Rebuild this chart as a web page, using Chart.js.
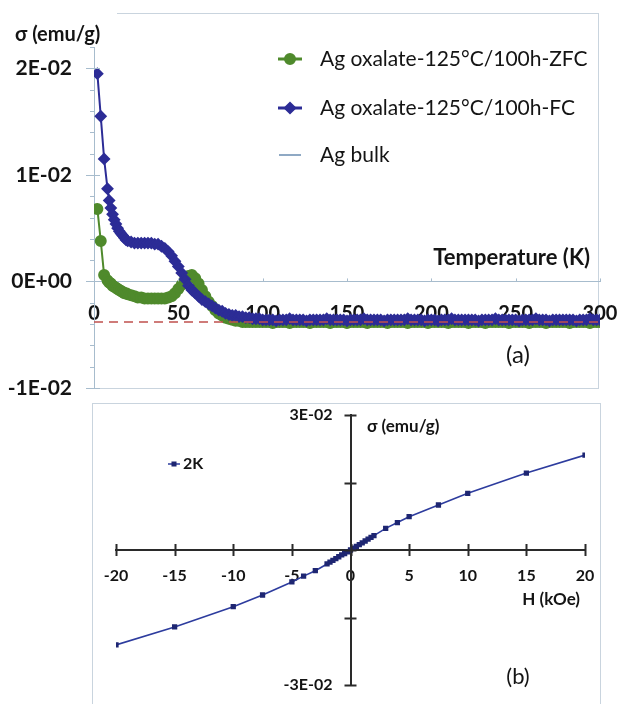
<!DOCTYPE html>
<html lang="en">
<head>
  <meta charset="UTF-8">
  <title>Ag oxalate - magnetization</title>
  <script src="https://cdn.jsdelivr.net/npm/chart.js"></script>
  <style>
    body {
      margin: 0;
      background: #fff;
      font-family: Lato, sans-serif;
    }
    #wrap {
      position: relative;
      width: 618px;
      height: 704px;
      overflow: hidden;
    }
    canvas {
      position: absolute;
      left: 0;
    }
    #chartA { top: 0; }
    #chartB { top: 400px; }
    .frame {
      position: absolute;
      background: #c9d4de;
    }
  </style>
</head>
<body>
<div id="wrap">
  <!-- panel frames -->
  <div class="frame" style="left:117px;top:13px;width:482px;height:1px"></div>
  <div class="frame" style="left:598px;top:13px;width:1px;height:376px"></div>
  <div class="frame" style="left:94px;top:388px;width:505px;height:1px"></div>
  <div class="frame" style="left:92px;top:403px;width:509px;height:1px"></div>
  <div class="frame" style="left:92px;top:403px;width:1px;height:301px"></div>
  <div class="frame" style="left:600px;top:403px;width:1px;height:301px"></div>

  <canvas id="chartA" width="618" height="400"></canvas>
  <canvas id="chartB" width="618" height="304"></canvas>
</div>

<script>
  // (a) sigma vs temperature
  const temps = [2, 4, 6, 8, 9, 10, 11, 12, 13, 14, 15, 16, 17, 18, 19, 20,
    22, 24, 26, 28, 30, 32, 34, 36, 38, 40, 42, 44, 46, 48, 50, 52, 54, 56, 58, 60,
    62, 64, 66, 68, 70, 72, 74, 76, 78, 80, 82, 84, 86, 88, 90, 92, 94, 96, 98, 100,
    102, 104, 106, 108, 110, 112, 114, 116, 118, 120,
    122, 124, 126, 128, 130, 132, 134, 136, 138, 140,
    142, 144, 146, 148, 150, 152, 154, 156, 158, 160,
    162, 164, 166, 168, 170, 172, 174, 176, 178, 180,
    182, 184, 186, 188, 190, 192, 194, 196, 198, 200,
    202, 204, 206, 208, 210, 212, 214, 216, 218, 220,
    222, 224, 226, 228, 230, 232, 234, 236, 238, 240,
    242, 244, 246, 248, 250, 252, 254, 256, 258, 260,
    262, 264, 266, 268, 270, 272, 274, 276, 278, 280,
    282, 284, 286, 288, 290, 292, 294, 296, 298, 300];

  const zfc = [0.0068, 0.0038, 0.0006, 0.0001, -0.0001, -0.0002, -0.0004, -0.0005, -0.0006, -0.0007, -0.0008, -0.0009, -0.0010, -0.0011, -0.0011, -0.0012,
    -0.0013, -0.0014, -0.0015, -0.0015, -0.0016, -0.0016, -0.0016, -0.0016, -0.0016, -0.0016, -0.0016, -0.0015, -0.0014, -0.0011, -0.0007, -0.0003, 0.0002, 0.0005, 0.0006, 0.0003,
    -0.0002, -0.0008, -0.0014, -0.0019, -0.0023, -0.0027, -0.0030, -0.0032, -0.0034, -0.0035, -0.0036, -0.0037, -0.0037, -0.0038, -0.0038, -0.0038, -0.0038, -0.0038, -0.0038, -0.0038,
    -0.0038, -0.0038, -0.0039, -0.0038, -0.0038, -0.0038, -0.0038, -0.0039, -0.0038, -0.0038,
    -0.0038, -0.0038, -0.0038, -0.0039, -0.0038, -0.0038, -0.0038, -0.0038, -0.0038, -0.0039,
    -0.0038, -0.0038, -0.0038, -0.0038, -0.0039, -0.0038, -0.0038, -0.0038, -0.0038, -0.0038,
    -0.0039, -0.0038, -0.0038, -0.0038, -0.0038, -0.0038, -0.0039, -0.0038, -0.0038, -0.0038,
    -0.0038, -0.0038, -0.0039, -0.0038, -0.0038, -0.0038, -0.0038, -0.0038, -0.0039, -0.0038,
    -0.0038, -0.0038, -0.0038, -0.0038, -0.0039, -0.0038, -0.0038, -0.0038, -0.0038, -0.0038,
    -0.0039, -0.0038, -0.0038, -0.0038, -0.0038, -0.0039, -0.0038, -0.0038, -0.0038, -0.0038,
    -0.0038, -0.0038, -0.0039, -0.0038, -0.0038, -0.0038, -0.0038, -0.0038, -0.0039, -0.0038,
    -0.0038, -0.0038, -0.0038, -0.0039, -0.0038, -0.0038, -0.0038, -0.0038, -0.0038, -0.0038,
    -0.0039, -0.0038, -0.0038, -0.0038, -0.0038, -0.0038, -0.0039, -0.0038, -0.0038, -0.0038];

  const fc = [0.0195, 0.0155, 0.0115, 0.0087, 0.0076, 0.0069, 0.0063, 0.0058, 0.0054, 0.0050, 0.0047, 0.0045, 0.0043, 0.0041, 0.0039, 0.0038,
    0.0037, 0.0036, 0.0036, 0.0036, 0.0036, 0.0036, 0.0036, 0.0035, 0.0035, 0.0033, 0.0031, 0.0028, 0.0024, 0.0019, 0.0014, 0.0008, 0.0002, -0.0004, -0.0008, -0.0011,
    -0.0014, -0.0017, -0.0019, -0.0021, -0.0023, -0.0025, -0.0027, -0.0028, -0.0030, -0.0031, -0.0032, -0.0032, -0.0033, -0.0033, -0.0034, -0.0034, -0.0035, -0.0035, -0.0035, -0.0036,
    -0.0036, -0.0036, -0.0036, -0.0037, -0.0036, -0.0036, -0.0036, -0.0035, -0.0036, -0.0036,
    -0.0036, -0.0036, -0.0037, -0.0036, -0.0036, -0.0036, -0.0036, -0.0036, -0.0035, -0.0036,
    -0.0036, -0.0036, -0.0036, -0.0036, -0.0037, -0.0036, -0.0036, -0.0036, -0.0036, -0.0035,
    -0.0036, -0.0036, -0.0036, -0.0036, -0.0036, -0.0037, -0.0036, -0.0036, -0.0036, -0.0036,
    -0.0036, -0.0036, -0.0035, -0.0036, -0.0036, -0.0036, -0.0036, -0.0037, -0.0036, -0.0036,
    -0.0036, -0.0037, -0.0036, -0.0036, -0.0036, -0.0035, -0.0036, -0.0036, -0.0036, -0.0036,
    -0.0036, -0.0036, -0.0036, -0.0037, -0.0036, -0.0036, -0.0036, -0.0036, -0.0035, -0.0036,
    -0.0036, -0.0036, -0.0036, -0.0036, -0.0036, -0.0037, -0.0036, -0.0036, -0.0036, -0.0036,
    -0.0035, -0.0036, -0.0036, -0.0036, -0.0037, -0.0036, -0.0036, -0.0036, -0.0036, -0.0036,
    -0.0036, -0.0036, -0.0037, -0.0036, -0.0036, -0.0036, -0.0035, -0.0036, -0.0036, -0.0036];

  const bulkTemps = [0, 300];
  const bulk = [-0.0038, -0.0038];

  const seriesNames = ['Ag oxalate-125°C/100h-ZFC', 'Ag oxalate-125°C/100h-FC', 'Ag bulk'];

  // (b) sigma vs field at 2 K
  const fields = [-20, -15, -10, -7.5, -5, -4, -3, -2, -1.75, -1.5, -1.25, -1, -0.75, -0.5, -0.25, 0,
    0.25, 0.5, 0.75, 1, 1.25, 1.5, 1.75, 2, 3, 4, 5, 7.5, 10, 15, 20];
  const sigma2K = [-0.0211, -0.0171, -0.0126, -0.0100, -0.0071, -0.0058, -0.0046, -0.0031, -0.0027, -0.0023, -0.0019, -0.0015, -0.0011, -0.0008, -0.0004, 0.0000,
    0.0004, 0.0008, 0.0012, 0.0016, 0.0020, 0.0024, 0.0028, 0.0032, 0.0048, 0.0061, 0.0074, 0.0100, 0.0126, 0.0171, 0.0211];

  const GREEN = '#4f8a2c';
  const BLUE = '#2c2c96';
  const BULK = '#c0504d';
  const TEXT = '#141414';

  function pairs(xs, ys) {
    return xs.map((x, i) => ({ x: x, y: ys[i] }));
  }

  function isStep(v, step) {
    return Math.abs(v / step - Math.round(v / step)) < 1e-6;
  }

  function sciLabel(v) {
    const n = Math.round(v / 0.01);
    return n === 0 ? '0E+00' : n + 'E-02';
  }

  // only the two ends of the (b) sigma axis carry a label
  function endLabel(v) {
    return Math.abs(Math.abs(v) - 0.03) < 1e-9 ? sciLabel(v) : '';
  }

  // keep the chart area where the layout padding puts it
  function noEdgePadding(scale) {
    scale.paddingTop = 0;
    scale.paddingBottom = 0;
    scale.paddingLeft = 0;
    scale.paddingRight = 0;
  }

  // tick marks across the axes, side labels, legend rows and free text
  const decor = {
    id: 'decor',
    afterDraw(chart, args, opts) {
      const ctx = chart.ctx;
      const sx = chart.scales.x;
      const sy = chart.scales.y;
      const ax = sx.getPixelForValue(Math.max(0, sx.min));
      const ay = sy.getPixelForValue(0);
      ctx.save();
      ctx.strokeStyle = opts.tickColor;
      ctx.lineWidth = opts.tickWidth;
      ctx.beginPath();
      sx.ticks.forEach(t => {
        const px = Math.round(sx.getPixelForValue(t.value)) + 0.5;
        ctx.moveTo(px, ay - opts.xTick[0]);
        ctx.lineTo(px, ay + opts.xTick[1]);
      });
      sy.ticks.forEach(t => {
        const py = Math.round(sy.getPixelForValue(t.value)) + 0.5;
        const len = isStep(t.value, opts.majorStep) ? opts.yMajor : opts.yMinor;
        ctx.moveTo(ax - len[0], py);
        ctx.lineTo(ax + len[1], py);
      });
      ctx.stroke();

      if (opts.yLabel) {
        ctx.fillStyle = TEXT;
        ctx.font = opts.yLabel.font;
        ctx.textAlign = 'right';
        ctx.textBaseline = 'middle';
        sy.ticks.forEach(t => {
          const text = opts.yLabel.format(t.value);
          if (text) ctx.fillText(text, ax - opts.yLabel.gap, sy.getPixelForValue(t.value));
        });
      }

      (opts.legend || []).forEach(row => {
        const ds = chart.data.datasets[row.index];
        const color = row.color || ds.borderColor;
        ctx.strokeStyle = color;
        ctx.lineWidth = row.lineWidth;
        ctx.setLineDash([]);
        ctx.beginPath();
        ctx.moveTo(row.x0, row.y);
        ctx.lineTo(row.x1, row.y);
        ctx.stroke();
        if (row.marker) {
          ctx.fillStyle = ds.pointBackgroundColor;
          ctx.strokeStyle = ds.pointBorderColor;
          Chart.helpers.drawPoint(ctx, { pointStyle: ds.pointStyle, radius: row.marker, borderWidth: 1 },
            (row.x0 + row.x1) / 2, row.y);
        }
        ctx.fillStyle = TEXT;
        ctx.font = row.font;
        ctx.textAlign = 'left';
        ctx.textBaseline = 'middle';
        ctx.fillText(ds.label, row.textX, row.y);
      });

      (opts.texts || []).forEach(t => {
        ctx.fillStyle = TEXT;
        ctx.font = t.font;
        ctx.textAlign = t.align;
        ctx.textBaseline = 'middle';
        ctx.fillText(t.text, t.x, t.y);
      });
      ctx.restore();
    }
  };

  new Chart(document.getElementById('chartA'), {
    type: 'line',
    data: {
      datasets: [
        {
          label: seriesNames[0],
          data: pairs(temps, zfc),
          borderColor: GREEN,
          backgroundColor: GREEN,
          pointBackgroundColor: GREEN,
          pointBorderColor: GREEN,
          pointStyle: 'circle',
          pointRadius: 5,
          borderWidth: 2,
          order: 3
        },
        {
          label: seriesNames[1],
          data: pairs(temps, fc),
          borderColor: BLUE,
          backgroundColor: BLUE,
          pointBackgroundColor: BLUE,
          pointBorderColor: BLUE,
          pointStyle: 'rectRot',
          pointRadius: 5,
          borderWidth: 2,
          order: 2
        },
        {
          label: seriesNames[2],
          data: pairs(bulkTemps, bulk),
          borderColor: BULK,
          borderWidth: 1.5,
          borderDash: [9, 6],
          pointRadius: 0,
          order: 1
        }
      ]
    },
    options: {
      responsive: false,
      animation: false,
      layout: { padding: { top: 47, right: 18, bottom: 12, left: 0 } },
      plugins: {
        legend: { display: false },
        tooltip: { enabled: false },
        decor: {
          tickColor: '#a7bccd',
          tickWidth: 1,
          xTick: [3, 0],
          majorStep: 0.01,
          yMajor: [8, 6],
          yMinor: [4, 1],
          legend: [
            { index: 0, y: 59, x0: 278, x1: 302, lineWidth: 3, marker: 4.5, textX: 320, font: '21px Lato' },
            { index: 1, y: 108, x0: 278, x1: 302, lineWidth: 3, marker: 4.5, textX: 320, font: '21px Lato' },
            { index: 2, y: 155, x0: 279, x1: 301, lineWidth: 2, color: '#8fa9c4', textX: 320, font: '21px Lato' }
          ],
          texts: [
            { text: 'σ (emu/g)', x: 15, y: 35, font: 'bold 20px Lato', align: 'left' },
            { text: 'Temperature (K)', x: 590, y: 258, font: 'bold 22px Lato', align: 'right' },
            { text: '(a)', x: 518, y: 355, font: '24px Lato', align: 'center' }
          ]
        }
      },
      scales: {
        x: {
          type: 'linear',
          position: { y: 0 },
          min: 0,
          max: 300,
          afterFit: noEdgePadding,
          grid: { drawOnChartArea: false, drawTicks: false },
          border: { color: '#a7bccd', width: 1 },
          ticks: {
            stepSize: 50,
            autoSkip: false,
            maxRotation: 0,
            padding: 20,
            color: TEXT,
            font: { family: 'Lato', size: 20, weight: 'bold' }
          }
        },
        y: {
          type: 'linear',
          position: 'left',
          min: -0.01,
          max: 0.022,
          afterFit: scale => { scale.width = 94; noEdgePadding(scale); },
          grid: { drawOnChartArea: false, drawTicks: false },
          border: { color: '#a7bccd', width: 1 },
          ticks: {
            stepSize: 0.002,
            autoSkip: false,
            padding: 22,
            color: TEXT,
            font: { family: 'Lato', size: 21, weight: 'bold' },
            callback: v => isStep(v, 0.01) ? sciLabel(v) : ''
          }
        }
      }
    },
    plugins: [decor]
  });

  new Chart(document.getElementById('chartB'), {
    type: 'line',
    data: {
      datasets: [
        {
          label: '2K',
          data: pairs(fields, sigma2K),
          borderColor: '#2d3c9e',
          backgroundColor: '#1e2672',
          pointBackgroundColor: '#1e2672',
          pointBorderColor: '#1e2672',
          pointStyle: 'rect',
          pointRadius: 2.6,
          borderWidth: 1.6
        }
      ]
    },
    options: {
      responsive: false,
      animation: false,
      layout: { padding: { top: 15, right: 33, bottom: 19, left: 116 } },
      plugins: {
        legend: { display: false },
        tooltip: { enabled: false },
        decor: {
          tickColor: '#2a2a2a',
          tickWidth: 2,
          xTick: [6, 6],
          majorStep: 0.015,
          yMajor: [6, 6],
          yMinor: [6, 6],
          yLabel: { format: endLabel, gap: 18, font: 'bold 16px Lato' },
          legend: [
            { index: 0, y: 64, x0: 168, x1: 180, lineWidth: 1.5, marker: 2.5, textX: 183, font: 'bold 16px Lato' }
          ],
          texts: [
            { text: 'σ (emu/g)', x: 367, y: 27, font: 'bold 17px Lato', align: 'left' },
            { text: 'H (kOe)', x: 580, y: 200, font: 'bold 17px Lato', align: 'right' },
            { text: '(b)', x: 518, y: 277, font: '22px Lato', align: 'center' }
          ]
        }
      },
      scales: {
        x: {
          type: 'linear',
          position: { y: 0 },
          min: -20,
          max: 20,
          afterFit: noEdgePadding,
          grid: { drawOnChartArea: false, drawTicks: false },
          border: { color: '#2a2a2a', width: 2 },
          ticks: {
            stepSize: 5,
            autoSkip: false,
            maxRotation: 0,
            padding: 16,
            color: TEXT,
            font: { family: 'Lato', size: 16, weight: 'bold' }
          }
        },
        y: {
          type: 'linear',
          position: { x: 0 },
          min: -0.03,
          max: 0.03,
          afterFit: noEdgePadding,
          grid: { drawOnChartArea: false, drawTicks: false },
          border: { color: '#2a2a2a', width: 2 },
          ticks: {
            display: false,
            stepSize: 0.015,
            autoSkip: false
          }
        }
      }
    },
    plugins: [decor]
  });
</script>
</body>
</html>
